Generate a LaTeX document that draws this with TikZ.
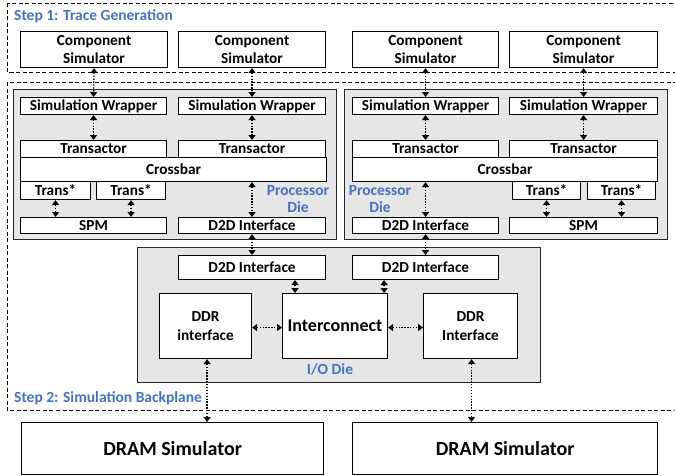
\documentclass[tikz,border=0pt]{standalone}
\usepackage{fontspec}
\setmainfont{Carlito}
\usetikzlibrary{arrows.meta,calc}
\definecolor{lblblue}{RGB}{68,114,196}
\definecolor{diegray}{RGB}{230,230,230}
\newcommand\bxx[6]{\node[box, minimum width={#4pt-#2pt}, minimum height={#5pt-#3pt}] (#1) at (#2,#3) {#6};}
\begin{document}
\begin{tikzpicture}[x=1pt,y=-1pt,
  box/.style={draw=black, line width=1.1pt, fill=white, inner sep=0pt, align=center, anchor=north west,
    font=\bfseries\fontsize{15.3}{18.5}\selectfont},
  diebox/.style={draw=black!85, line width=1pt, fill=diegray},
  stepframe/.style={draw=black, line width=1pt, dash pattern=on 4pt off 2.5pt},
  lbl/.style={text=lblblue, font=\bfseries\fontsize{15.5}{17}\selectfont, inner sep=0pt, align=center},
  arr/.style={line width=1.3pt, dash pattern=on 1.3pt off 1.6pt,
    {Triangle[length=5pt,width=7pt]}-{Triangle[length=5pt,width=7pt]}}
]
\clip (0,0) rectangle (675,475);
\fill[white] (0,0) rectangle (675,475);

% step frames
\draw[stepframe] (7,3) rectangle (690,72);
\draw[stepframe] (7,82) rectangle (690,410);
\node[lbl, anchor=west] (s1) at (14,16) {Step 1: Trace Generation};
\node[lbl, anchor=west] (s2) at (14,398) {Step 2: Simulation Backplane};

% component simulators
\bxx{cs1}{20}{31}{167}{67}{Component\\Simulator}
\bxx{cs2}{178}{31}{325}{67}{Component\\Simulator}
\bxx{cs3}{352}{31}{498}{67}{Component\\Simulator}
\bxx{cs4}{509}{31}{657}{67}{Component\\Simulator}

% processor dies
\draw[diebox] (13,89) rectangle (336,239);
\draw[diebox] (344,89) rectangle (667,239);

\bxx{sw1}{20}{97}{166}{114}{Simulation Wrapper}
\bxx{sw2}{178}{97}{325}{114}{Simulation Wrapper}
\bxx{sw3}{352}{97}{498}{114}{Simulation Wrapper}
\bxx{sw4}{509}{97}{657}{114}{Simulation Wrapper}

\bxx{tr1}{20}{140}{166}{157}{Transactor}
\bxx{tr2}{178}{140}{325}{157}{Transactor}
\bxx{tr3}{352}{140}{498}{157}{Transactor}
\bxx{tr4}{509}{140}{657}{157}{Transactor}

\bxx{cb1}{20}{157}{326}{181}{Crossbar}
\bxx{cb2}{352}{157}{657}{181}{Crossbar}

\bxx{ts1}{20}{181}{90}{199}{Trans*}
\bxx{ts2}{96}{181}{165}{199}{Trans*}
\bxx{ts3}{512}{181}{580}{199}{Trans*}
\bxx{ts4}{587}{181}{655}{199}{Trans*}

\bxx{spm1}{20}{217}{166}{233}{SPM}
\bxx{spm2}{509}{217}{657}{233}{SPM}
\bxx{pd1}{178}{217}{325}{233}{D2D Interface}
\bxx{pd2}{352}{217}{498}{233}{D2D Interface}

\node[lbl] (pl1) at (298,199) {Processor\\Die};
\node[lbl] (pl2) at (380,199) {Processor\\Die};

% I/O die
\draw[diebox] (137,247) rectangle (540,382);
\bxx{iod1}{178}{255}{325}{279}{D2D Interface}
\bxx{iod2}{352}{255}{498}{279}{D2D Interface}
\bxx{ddr1}{159}{293}{251}{358}{DDR\\interface}
\bxx{ic}{282}{293}{387}{358}{\fontsize{18}{20}\selectfont Interconnect}
\bxx{ddr2}{423}{293}{517}{358}{DDR\\Interface}
\node[lbl] (iol) at (330,369) {I/O Die};

% DRAM
\bxx{dr1}{21}{422}{323}{474}{\fontsize{20}{22}\selectfont DRAM Simulator}
\bxx{dr2}{352}{422}{657}{474}{\fontsize{20}{22}\selectfont DRAM Simulator}

% connectors
\foreach \a/\b in {cs1/sw1,cs2/sw2,cs3/sw3,cs4/sw4,sw1/tr1,sw2/tr2,sw3/tr3,sw4/tr4}
  \draw[arr] (\a.south) -- (\b.north);
\foreach \a/\b in {ts1/spm1,ts2/spm1,ts3/spm2,ts4/spm2}
  \draw[arr] (\a.south) -- (\a.south |- \b.north);
\draw[arr] (cb1.south -| pd1.north) -- (pd1.north);
\draw[arr] (cb2.south -| pd2.north) -- (pd2.north);
\draw[arr] (pd1.south) -- (iod1.north);
\draw[arr] (pd2.south) -- (iod2.north);
\draw[arr] ([xshift=13pt]ic.north west |- iod1.south) -- ([xshift=13pt]ic.north west);
\draw[arr] ([xshift=-4pt]ic.north east |- iod2.south) -- ([xshift=-4pt]ic.north east);
\draw[arr] ([yshift=-1.5pt]ddr1.east) -- ([yshift=-1.5pt]ic.west);
\draw[arr] ([yshift=-1.5pt]ic.east) -- ([yshift=-1.5pt]ddr2.west);
\draw[arr] ([xshift=1.5pt]ddr1.south) -- ([xshift=1.5pt]ddr1.south |- dr1.north);
\draw[arr] ([xshift=1pt]ddr2.south) -- ([xshift=1pt]ddr2.south |- dr2.north);
\end{tikzpicture}
\end{document}
